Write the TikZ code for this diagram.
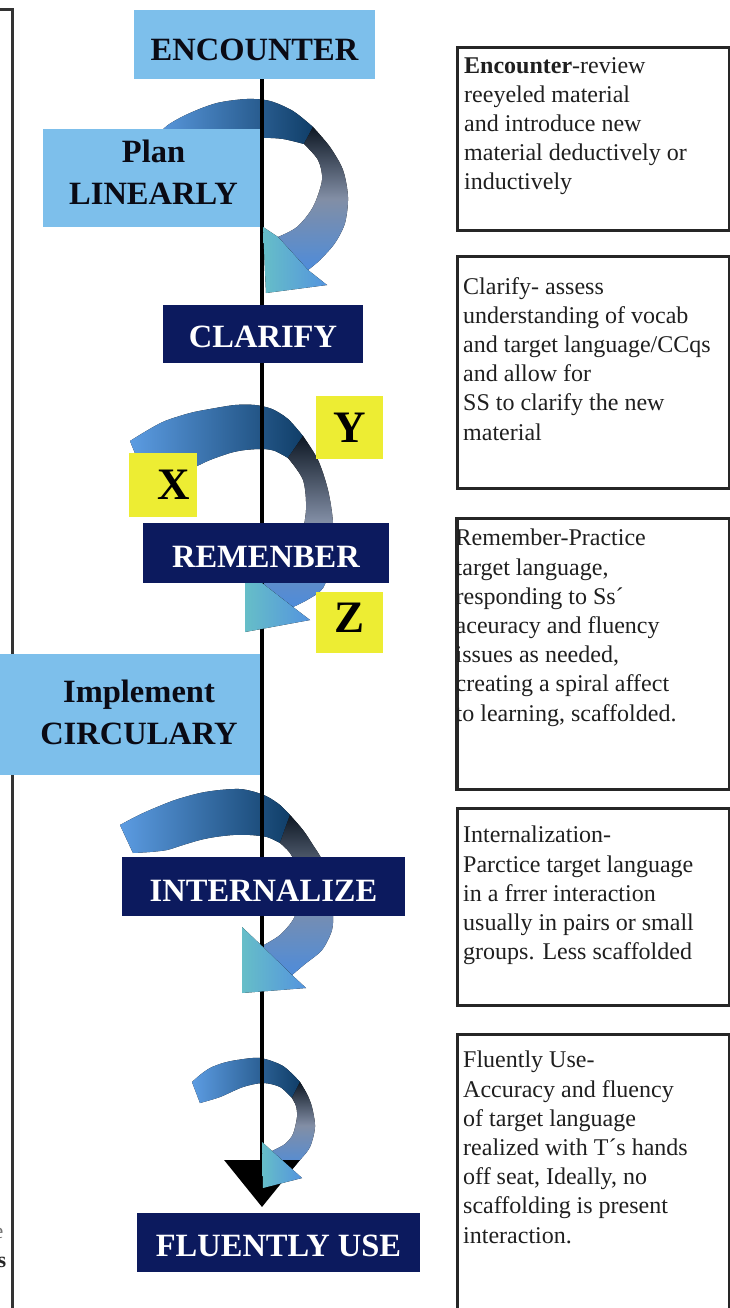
\documentclass[tikz,border=0pt]{standalone}
\usepackage{fontspec}
\setmainfont{Liberation Serif}
\usetikzlibrary{arrows.meta}
\definecolor{lbox}{RGB}{125,191,235}
\definecolor{nbox}{RGB}{12,26,94}
\definecolor{ybox}{RGB}{237,237,51}
\definecolor{rlight}{RGB}{92,156,226}
\definecolor{rnavy}{RGB}{16,62,104}
\definecolor{rdark}{RGB}{14,24,36}
\definecolor{rgray}{RGB}{130,142,165}
\definecolor{rblue}{RGB}{78,140,218}
\definecolor{hteal}{RGB}{102,190,200}
\definecolor{hblue}{RGB}{84,148,222}
\definecolor{labtext}{RGB}{10,10,20}
\begin{document}
\begin{tikzpicture}[x=1pt,y=-1pt,
  lab/.style={font=\fontsize{32.5}{42}\selectfont\bfseries, inner sep=0pt, align=center},
  lightlab/.style={lab, fill=lbox, text=labtext},
  navylab/.style={lab, fill=nbox, text=white},
  ylab/.style={font=\fontsize{45}{50}\selectfont\bfseries, fill=ybox, inner sep=0pt, text=black},
  rbox/.style={draw=black!85, line width=2.8pt, fill=white, anchor=north west, inner sep=0pt},
  rborder/.style={draw=black!85, line width=2.8pt},
  rtext/.style={font=\fontsize{24}{29.2}\selectfont, text=black!88, align=left, anchor=north west, inner sep=0pt},
  frameline/.style={draw=black!80, line width=3pt},
  mainline/.style={draw=black, line width=4pt, -{Triangle[width=75pt,length=47pt]}},
  arcsh/.style={left color=rlight, right color=rnavy},
  descsh/.style={top color=rdark, bottom color=rblue, middle color=rgray},
  headsh/.style={left color=hteal, right color=hblue}
]
\fill[white] (0,0) rectangle (730,1308);
\useasboundingbox (0,0) rectangle (730,1308);

% left frame and cut-off text
\draw[frameline] (0,10) -- (12,10) -- (12,1312);
\node[anchor=base east, inner sep=0pt, font=\fontsize{22}{26}\selectfont, text=black!55] (fe) at (3.5,1238) {e};
\node[anchor=base east, inner sep=0pt, font=\fontsize{22}{26}\selectfont\bfseries, text=black!85] (fs) at (6.5,1267) {s};

% ---- ribbon bodies ----
% arrow 1
\fill[arcsh] plot[smooth] coordinates {(150,142) (168,125) (190,113) (217,103) (247,99) (270,101) (293,111) (313,127)}
  -- plot[smooth] coordinates {(304,144) (283,139) (263,138) (237,141) (210,149) (185,162) (172,172)} -- cycle;
\fill[descsh] plot[smooth] coordinates {(313,127) (330,147) (343,170) (348,197) (345,223) (335,243) (320,260) (308,270)}
  -- plot[smooth] coordinates {(278,237) (297,227) (313,207) (322,180) (318,160) (304,144)} -- cycle;
% arrow 2
\fill[arcsh] plot[smooth] coordinates {(130,441) (148,430) (165,421) (190,413) (210,409) (235,405) (255,405) (272,409) (288,419) (303,436)}
  -- plot[smooth] coordinates {(288,458) (275,451) (263,449) (245,450) (230,453) (210,460) (197,466) (180,473) (165,478) (145,478)} -- cycle;
\fill[descsh] plot[smooth] coordinates {(303,436) (318,460) (328,490) (333,523) (332,560) (323,588) (307,600) (293,607)}
  -- plot[smooth] coordinates {(262,583) (285,565) (300,540) (306,510) (303,480) (288,458)} -- cycle;
% arrow 3
\fill[arcsh] plot[smooth] coordinates {(120,825) (135,817) (150,810) (175,800) (200,793) (220,790) (240,789) (255,792) (268,797) (280,805) (290,815)}
  -- plot[smooth] coordinates {(280,843) (267,837) (250,835) (233,835) (215,837) (200,840) (183,845) (167,850) (150,852) (133,853)} -- cycle;
\fill[descsh] plot[smooth] coordinates {(290,815) (303,830) (313,845) (322,860) (330,885) (333,910) (332,930) (322,950) (305,964) (292,975)}
  -- plot[smooth] coordinates {(262,946) (280,935) (294,918) (300,895) (298,870) (290,853) (280,843)} -- cycle;
% arrow 4
\fill[arcsh] plot[smooth] coordinates {(192,1082) (200,1075) (210,1068) (223,1063) (237,1060) (260,1058) (283,1066) (300,1082)}
  -- plot[smooth] coordinates {(292,1098) (280,1087) (263,1083) (243,1087) (220,1097) (200,1103)} -- cycle;
\fill[descsh] plot[smooth] coordinates {(300,1082) (307,1094) (312,1107) (315,1127) (310,1147) (300,1160) (292,1169)}
  -- plot[smooth] coordinates {(272,1151) (285,1144) (293,1134) (297,1117) (296,1106) (292,1098)} -- cycle;

% ---- light boxes and yellow boxes ----
\node[lightlab, minimum width=241pt, minimum height=69pt, text height=32.5pt] (enc) at (254.5,44.5) {ENCOUNTER};
\node[fill=lbox, inner sep=0pt, minimum width=220pt, minimum height=98pt] (plan) at (153,178) {};
\node[lab, text=labtext] (plantxt) at (153.5,172) {Plan\\LINEARLY};
\node[fill=lbox, inner sep=0pt, minimum width=263pt, minimum height=121pt] (impl) at (131.5,714.5) {};
\node[lab, text=labtext] (impltxt) at (139,712) {Implement\\CIRCULARY};
\node[ylab, minimum width=68pt, minimum height=64pt] (xb) at (163,485) {\hspace*{22pt}X};
\node[ylab, minimum width=67pt, minimum height=63pt] (yb) at (349.5,427.5) {Y};
\node[ylab, minimum width=67pt, minimum height=61pt, text depth=10pt] (zb) at (349.5,622.5) {Z};

% ---- main line with its arrowhead ----
\coordinate (tipc) at (262,1207);
\draw[mainline] (tipc |- enc.south) -- (tipc);

% ---- arrow heads ----
\fill[headsh] (308,270) -- (327,285) -- (266,293) -- (263,227) -- (278,237) -- cycle;
\fill[headsh] (293,607) -- (310,620) -- (245,632) -- (245,570) -- (262,583) -- cycle;
\fill[headsh] (292,975) -- (306,988) -- (242,993) -- (242,927) -- (262,946) -- cycle;
\fill[headsh] (292,1169) -- (302,1178) -- (263,1188) -- (262,1142) -- (272,1151) -- cycle;

% ---- navy boxes ----
\node[navylab, minimum width=200pt, minimum height=58pt, text height=28pt] (clar) at (263,334) {CLARIFY};
\node[navylab, minimum width=246pt, minimum height=60pt, text height=30pt] (rem) at (266,553) {REMENBER};
\node[navylab, minimum width=283pt, minimum height=59pt, text height=30pt] (intl) at (263.5,886.5) {INTERNALIZE};
\node[navylab, minimum width=283pt, minimum height=59pt, text height=28pt] (flu) at (278.5,1242.5) {FLUENTLY USE};

% ---- right description boxes ----
\node[rbox, minimum width=272pt, minimum height=183pt] (r1) at (456,46) {};
\node[rbox, minimum width=272pt, minimum height=232pt] (r2) at (456,255) {};
\node[rbox, minimum width=272pt, minimum height=271pt] (r3) at (456,517) {};
\node[rbox, minimum width=272pt, minimum height=197pt] (r4) at (456,807) {};
\node[rbox, minimum width=272pt, minimum height=300pt] (r5) at (456,1033) {};

\node[rtext] (t1) at (464,57) {\textbf{Encounter}-review\\reeyeled material\\and introduce new\\material deductively or\\inductively};
\node[rtext] (t2) at (463,277) {Clarify- assess\\understanding of vocab\\and target language/CCqs\\and allow for\\SS to clarify the new\\material};
\node[rtext] (t3) at (455.5,529) {Remember-Practice\\target language,\\responding to Ss´\\aceuracy and fluency\\issues as needed,\\creating a spiral affect\\to learning, scaffolded.};
\draw[rborder] (r3.north west) -- (r3.south west);
\node[rtext] (t4) at (463,826) {Internalization-\\Parctice target language\\in a frrer interaction\\usually in pairs or small\\groups. Less scaffolded};
\node[rtext] (t5) at (463,1051) {Fluently Use-\\Accuracy and fluency\\of target language\\realized with T´s hands\\off seat, Ideally, no\\scaffolding is present\\interaction.};
\end{tikzpicture}
\end{document}
